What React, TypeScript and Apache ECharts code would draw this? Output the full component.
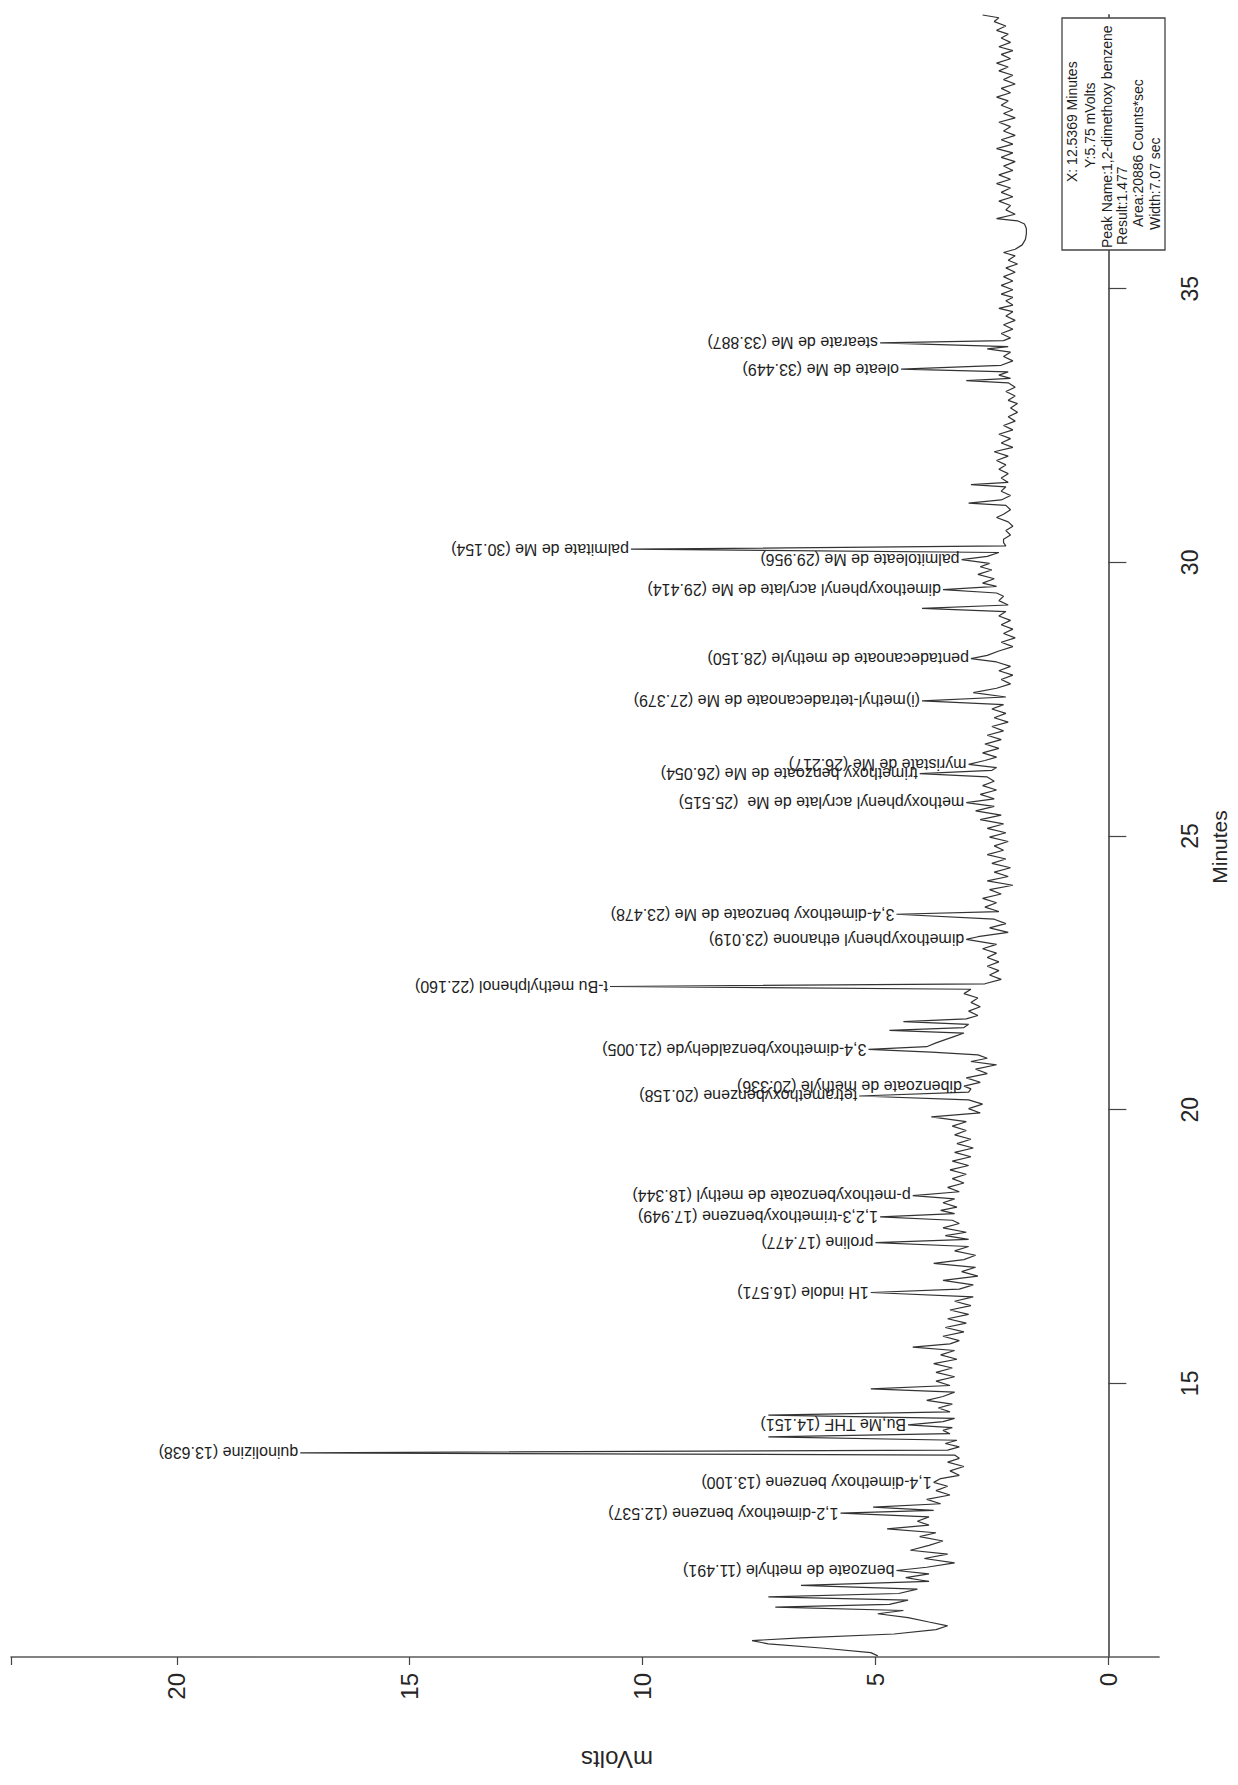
import React, { useEffect, useRef } from "react";
import * as echarts from "echarts";

// ---- axes ----
const minuteRange = [10, 40];
const minuteInterval = 5;
const mVoltRange = [-1.09, 23.56];
const mVoltTicks = [0, 5, 10, 15, 20];

// ---- trace (minutes, mVolts) ----
const traceEarly: number[][] = [
  [10.02, 4.95], [10.08, 5.1], [10.16, 6.1], [10.24, 7.3], [10.3, 7.65], [10.35, 6.6], [10.42, 4.6], [10.5, 3.7],
  [10.57, 3.45], [10.64, 3.85], [10.72, 4.3], [10.79, 4.95], [10.85, 4.4], [10.91, 7.15], [10.96, 4.7], [11.04, 4.3],
  [11.1, 7.3], [11.16, 4.5], [11.24, 4.1], [11.31, 6.6], [11.38, 3.85], [11.45, 4.35], [11.52, 3.85], [11.64, 3.9],
  [11.72, 3.3], [11.8, 3.95], [11.88, 3.45], [11.95, 4.25], [12.04, 3.85], [12.12, 3.55], [12.2, 4.05], [12.27, 3.7],
  [12.34, 4.75], [12.41, 3.85], [12.48, 4.1], [12.56, 3.85], [12.68, 3.75], [12.74, 5.05], [12.8, 3.6], [12.88, 3.9],
  [12.96, 3.4], [13.04, 3.7], [13.12, 3.45], [13.26, 3.6], [13.32, 3.2], [13.4, 3.4], [13.48, 3.1], [13.56, 3.45],
  [13.63, 3.2], [13.69, 3.3], [13.78, 3.45], [13.84, 3.2], [13.9, 3.5], [13.96, 3.25], [14.02, 7.3], [14.08, 3.4],
  [14.14, 3.55], [14.19, 3.35], [14.3, 3.55], [14.36, 3.3], [14.42, 7.3], [14.48, 3.4], [14.55, 3.65], [14.62, 3.35],
  [14.69, 3.9], [14.76, 3.55], [14.84, 3.3], [14.9, 5.1], [14.96, 3.4], [15.04, 3.7], [15.12, 3.3], [15.2, 3.7],
  [15.28, 3.35], [15.36, 3.75], [15.44, 3.25], [15.52, 3.6], [15.6, 3.3], [15.66, 4.2], [15.72, 3.4], [15.78, 3.2],
  [15.86, 3.55], [15.94, 3.1], [16.02, 3.5], [16.1, 3.05], [16.18, 3.45], [16.26, 3.0], [16.34, 3.4], [16.42, 2.95],
  [16.5, 3.3], [16.58, 2.9], [16.72, 3.2], [16.8, 2.9], [16.88, 3.55], [16.96, 2.8], [17.04, 3.15], [17.12, 2.85],
  [17.19, 3.75], [17.26, 3.1], [17.34, 2.85], [17.42, 3.3], [17.5, 3.0], [17.63, 3.0], [17.7, 3.5], [17.76, 3.05],
  [17.84, 3.55], [17.92, 3.2], [17.98, 3.35],
];

const traceMiddle: number[][] = [
  [18.1, 3.3], [18.16, 3.6], [18.22, 3.25], [18.3, 3.55], [18.37, 3.3], [18.5, 3.2], [18.58, 3.45], [18.66, 3.1],
  [18.74, 3.35], [18.82, 3.05], [18.9, 3.4], [18.98, 3.0], [19.06, 3.35], [19.14, 2.95], [19.22, 3.3], [19.3, 2.9],
  [19.38, 3.25], [19.46, 2.95], [19.54, 3.3], [19.62, 3.05], [19.7, 3.35], [19.78, 3.05], [19.87, 3.8], [19.94, 2.75],
  [20.02, 3.0], [20.1, 2.7], [20.18, 3.0], [20.32, 3.0], [20.38, 2.95], [20.5, 2.75], [20.58, 3.05], [20.66, 2.6],
  [20.74, 2.85], [20.82, 2.4], [20.88, 2.95], [20.94, 2.6], [21.0, 2.8], [21.05, 3.8], [21.15, 3.9], [21.22, 3.7],
  [21.28, 3.5], [21.34, 3.3], [21.4, 3.1], [21.45, 4.7], [21.5, 3.1], [21.56, 3.0], [21.61, 4.4], [21.66, 3.05],
  [21.72, 2.8], [21.8, 3.0], [21.88, 2.75], [21.96, 2.95], [22.04, 2.8], [22.12, 3.1], [22.2, 2.95], [22.3, 2.65],
  [22.38, 2.3], [22.46, 2.55], [22.54, 2.35], [22.62, 2.6], [22.7, 2.35], [22.78, 2.6], [22.86, 2.4], [22.94, 2.7],
  [23.02, 2.4], [23.16, 2.8], [23.24, 2.15], [23.32, 2.55], [23.4, 2.2], [23.48, 2.45], [23.62, 2.35], [23.7, 2.65],
  [23.78, 2.4], [23.86, 2.7], [23.94, 2.3], [24.02, 2.55], [24.1, 2.05], [24.18, 2.6], [24.26, 2.15], [24.34, 2.45],
  [24.42, 2.1], [24.5, 2.5], [24.58, 2.2], [24.66, 2.6], [24.74, 2.25], [24.82, 2.45], [24.9, 2.15], [24.98, 2.55],
  [25.06, 2.2], [25.14, 2.6], [25.22, 2.25], [25.3, 2.75], [25.38, 2.3], [25.46, 2.85], [25.54, 2.45], [25.68, 2.45],
  [25.76, 2.75], [25.84, 2.4], [25.92, 2.7], [26.0, 2.45], [26.08, 2.6], [26.2, 2.5], [26.25, 2.4], [26.38, 2.65],
  [26.44, 2.4], [26.52, 2.7], [26.6, 2.35], [26.68, 2.65], [26.76, 2.3], [26.84, 2.6], [26.92, 2.25], [27.0, 2.5],
  [27.08, 2.15], [27.16, 2.45], [27.24, 2.2], [27.32, 2.5], [27.4, 2.25], [27.54, 2.2], [27.62, 2.9], [27.7, 2.4],
  [27.78, 2.1], [27.86, 2.3], [27.94, 2.05], [28.02, 2.35], [28.1, 2.1], [28.18, 2.4], [28.3, 2.6], [28.38, 2.35],
  [28.46, 2.05], [28.54, 2.3], [28.62, 2.0], [28.7, 2.25], [28.78, 2.05], [28.86, 2.3], [28.94, 2.1], [29.02, 2.35],
  [29.1, 2.2], [29.16, 4.0], [29.22, 2.15], [29.3, 2.35], [29.38, 2.25], [29.44, 2.4], [29.56, 2.4], [29.62, 2.7],
  [29.7, 2.45], [29.78, 2.8], [29.86, 2.5], [29.92, 2.75], [29.98, 2.55],
];

const traceLate: number[][] = [
  [30.11, 2.6], [30.18, 2.35], [30.3, 2.2], [30.36, 2.25], [30.42, 2.25], [30.5, 2.1], [30.58, 2.2], [30.66, 2.05],
  [30.74, 2.15], [30.82, 2.4], [30.88, 2.25], [30.96, 2.1], [31.04, 2.2], [31.08, 3.0], [31.14, 2.3], [31.22, 2.1],
  [31.3, 2.3], [31.38, 2.2], [31.42, 2.95], [31.46, 2.15], [31.54, 2.3], [31.62, 2.15], [31.7, 2.35], [31.78, 2.2],
  [31.86, 2.4], [31.94, 2.15], [32.02, 2.45], [32.1, 2.05], [32.18, 2.3], [32.26, 2.1], [32.34, 2.35], [32.42, 2.05],
  [32.5, 2.25], [32.58, 2.0], [32.66, 2.15], [32.74, 1.95], [32.82, 2.1], [32.9, 1.95], [32.96, 2.15], [33.04, 2.0],
  [33.12, 2.2], [33.2, 2.0], [33.28, 2.15], [33.32, 3.05], [33.36, 2.1], [33.42, 2.35], [33.48, 2.15], [33.6, 2.3],
  [33.68, 2.05], [33.76, 2.25], [33.84, 2.1], [33.9, 2.6], [33.94, 2.15], [34.05, 2.25], [34.1, 2.1], [34.18, 2.3],
  [34.26, 2.05], [34.34, 2.25], [34.42, 2.0], [34.5, 2.2], [34.58, 2.05], [34.64, 2.35], [34.7, 2.05], [34.78, 2.2],
  [34.84, 2.05], [34.9, 2.3], [34.98, 2.05], [35.06, 2.3], [35.14, 2.05], [35.22, 2.25], [35.3, 2.0], [35.38, 2.2],
  [35.45, 1.95], [35.52, 2.15], [35.6, 2.0], [35.66, 2.25], [35.72, 2.0], [35.8, 1.85], [35.9, 1.78], [36.0, 1.76],
  [36.1, 1.76], [36.18, 1.8], [36.24, 1.95], [36.28, 2.4], [36.36, 2.0], [36.44, 2.2], [36.52, 2.1], [36.6, 2.35],
  [36.68, 2.05], [36.76, 2.3], [36.84, 2.1], [36.92, 2.4], [37.0, 2.1], [37.08, 2.35], [37.16, 2.05], [37.24, 2.25],
  [37.32, 2.0], [37.4, 2.3], [37.48, 2.05], [37.56, 2.4], [37.64, 2.05], [37.72, 2.3], [37.8, 2.0], [37.88, 2.25],
  [37.96, 2.1], [38.04, 2.35], [38.12, 2.0], [38.2, 2.25], [38.27, 2.05], [38.35, 2.3], [38.43, 2.15], [38.5, 2.4],
  [38.58, 2.1], [38.66, 2.3], [38.74, 2.0], [38.82, 2.25], [38.9, 2.05], [38.98, 2.35], [39.05, 2.15], [39.12, 2.4],
  [39.2, 2.1], [39.28, 2.3], [39.35, 2.05], [39.42, 2.35], [39.5, 2.1], [39.58, 2.3], [39.65, 2.15], [39.72, 2.4],
  [39.8, 2.2], [39.88, 2.45], [39.95, 2.35], [40.0, 2.7],
];

// ---- labelled peaks ----
const peakLabels = [
  "benzoate de methyle (11.491)",
  "1,2-dimethoxy benzene (12.537)",
  "1,4-dimethoxy benzene (13.100)",
  "quinolizine (13.638)",
  "Bu,Me THF (14.151)",
  "1H indole (16.571)",
  "proline (17.477)",
  "1,2,3-trimethoxybenzene (17.949)",
  "p-methoxybenzoate de methyl (18.344)",
  "tetramethoxybenzene (20.158)",
  "dibenzoate de methyle (20.336)",
  "3,4-dimethoxybenzaldehyde (21.005)",
  "t-Bu methylphenol (22.160)",
  "dimethoxyphenyl ethanone (23.019)",
  "3,4-dimethoxy benzoate de Me (23.478)",
  "methoxyphenyl acrylate de Me  (25.515)",
  "trimethoxy benzoate de Me (26.054)",
  "myristate de Me (26.217)",
  "(i)methyl-tetradecanoate de Me (27.379)",
  "pentadecanoate de methyle (28.150)",
  "dimethoxyphenyl acrylate de Me (29.414)",
  "palmitoleate de Me (29.956)",
  "palmitate de Me (30.154)",
  "oleate de Me (33.449)",
  "stearate de Me (33.887)",
];
const peakApexMinutes = [
  11.58, 12.63, 13.19, 13.73, 14.24, 16.66, 17.57, 18.04, 18.43, 20.25, 20.43, 21.1, 22.25,
  23.11, 23.57, 25.61, 26.14, 26.31, 27.47, 28.24, 29.5, 30.05, 30.24, 33.53, 34.01,
];
const peakApexMV = [
  4.55, 5.75, 3.75, 17.35, 4.3, 5.1, 5.0, 4.9, 4.2, 5.35, 3.1, 5.15, 10.7,
  3.05, 4.55, 3.05, 4.05, 3.0, 4.0, 2.95, 3.55, 3.15, 10.25, 4.45, 4.9,
];

// ---- info box ----
const infoLines = [
  "X: 12.5369 Minutes",
  "Y:5.75 mVolts",
  "Peak Name:1,2-dimethoxy benzene",
  "Result:1.477",
  "Area:20886 Counts*sec",
  "Width:7.07 sec",
];

const FONT = '"Liberation Sans", Arial, Helvetica, sans-serif';
const INK = "#262626";

export default function App() {
  const ref = useRef<HTMLDivElement | null>(null);

  useEffect(() => {
    if (!ref.current) return;
    const chart = echarts.init(ref.current, undefined, { renderer: "svg" });

    const apexPoints = peakApexMinutes.map((m, i) => [m, peakApexMV[i]]);
    const trace = [...traceEarly, ...traceMiddle, ...traceLate, ...apexPoints]
      .sort((a, b) => a[0] - b[0])
      .map(([m, v]) => [v, m]);
    const labelData = peakApexMinutes.map((m, i) => [peakApexMV[i], m]);

    // info box layout (pixel positions of each rotated line)
    const infoLayout = [
      [1072, 182], [1090, 168], [1107, 248], [1122, 245], [1138, 227], [1155, 230],
    ];

    const option: any = {
      animation: false,
      backgroundColor: "#ffffff",
      textStyle: { fontFamily: FONT },
      grid: { left: 11, right: 71, top: 15, bottom: 128, containLabel: false },
      xAxis: {
        type: "value",
        inverse: true,
        position: "bottom",
        min: mVoltRange[0],
        max: mVoltRange[1],
        splitLine: { show: false },
        axisLine: { show: true, lineStyle: { color: "#5a5a5a", width: 1.6 } },
        axisTick: {
          show: true,
          inside: false,
          length: 8,
          customValues: [...mVoltTicks, mVoltRange[1]],
          lineStyle: { color: "#444", width: 1.2 },
        },
        axisLabel: {
          show: true,
          customValues: mVoltTicks,
          rotate: 90,
          margin: 16,
          fontSize: 24,
          color: INK,
          fontFamily: FONT,
        },
        name: "mVolts",
        nameLocation: "middle",
        nameRotate: 180,
        nameGap: 90,
        nameTextStyle: { fontSize: 24, color: INK, fontFamily: FONT, padding: [0, 64, 0, 0] },
      },
      yAxis: {
        type: "value",
        position: "right",
        min: minuteRange[0],
        max: minuteRange[1],
        interval: minuteInterval,
        splitLine: { show: false },
        axisLine: { show: true, lineStyle: { color: "#5a5a5a", width: 1.8 } },
        axisTick: { show: true, inside: false, length: 18, lineStyle: { color: "#444", width: 1.2 } },
        axisLabel: {
          show: true,
          rotate: 90,
          margin: 19,
          fontSize: 23,
          color: INK,
          fontFamily: FONT,
          showMinLabel: false,
          showMaxLabel: false,
        },
        name: "Minutes",
        nameLocation: "middle",
        nameGap: 42,
        nameTextStyle: { fontSize: 21, color: INK, fontFamily: FONT, padding: [0, 22, 0, 0] },
      },
      series: [
        {
          type: "line",
          name: "trace",
          data: trace,
          symbol: "none",
          showSymbol: false,
          smooth: false,
          clip: false,
          lineStyle: { color: "#333333", width: 1.2 },
          emphasis: { disabled: true },
          silent: true,
          z: 2,
        },
        {
          type: "custom",
          name: "peak labels",
          coordinateSystem: "cartesian2d",
          data: labelData,
          encode: { x: 0, y: 1 },
          clip: false,
          silent: true,
          z: 3,
          renderItem: (params: any, api: any) => {
            const p = api.coord([api.value(0), api.value(1)]);
            const text = peakLabels[params.dataIndex];
            return {
              type: "text",
              x: p[0] - 2,
              y: p[1],
              rotation: Math.PI,
              style: {
                text,
                font: `16px ${FONT}`,
                fill: "#1e1e1e",
                align: "left",
                verticalAlign: "middle",
                textAlign: "left",
                textVerticalAlign: "middle",
              },
            };
          },
        },
      ],
      graphic: [
        {
          type: "rect",
          shape: { x: 1062, y: 18, width: 103, height: 232 },
          style: { fill: "#ffffff", stroke: "#444", lineWidth: 1.3 },
          z: 10,
        },
        ...infoLines.map((t, i) => ({
          type: "text",
          x: infoLayout[i][0],
          y: infoLayout[i][1],
          rotation: Math.PI / 2,
          z: 11,
          style: {
            text: t,
            font: `14px ${FONT}`,
            fill: "#1e1e1e",
            align: "left",
            verticalAlign: "middle",
            textAlign: "left",
            textVerticalAlign: "middle",
          },
        })),
      ],
    };

    chart.setOption(option);
    return () => chart.dispose();
  }, []);

  return (
    <div
      ref={ref}
      style={{ position: "absolute", left: 0, top: 0, width: 1238, height: 1785, background: "#fff" }}
    />
  );
}
